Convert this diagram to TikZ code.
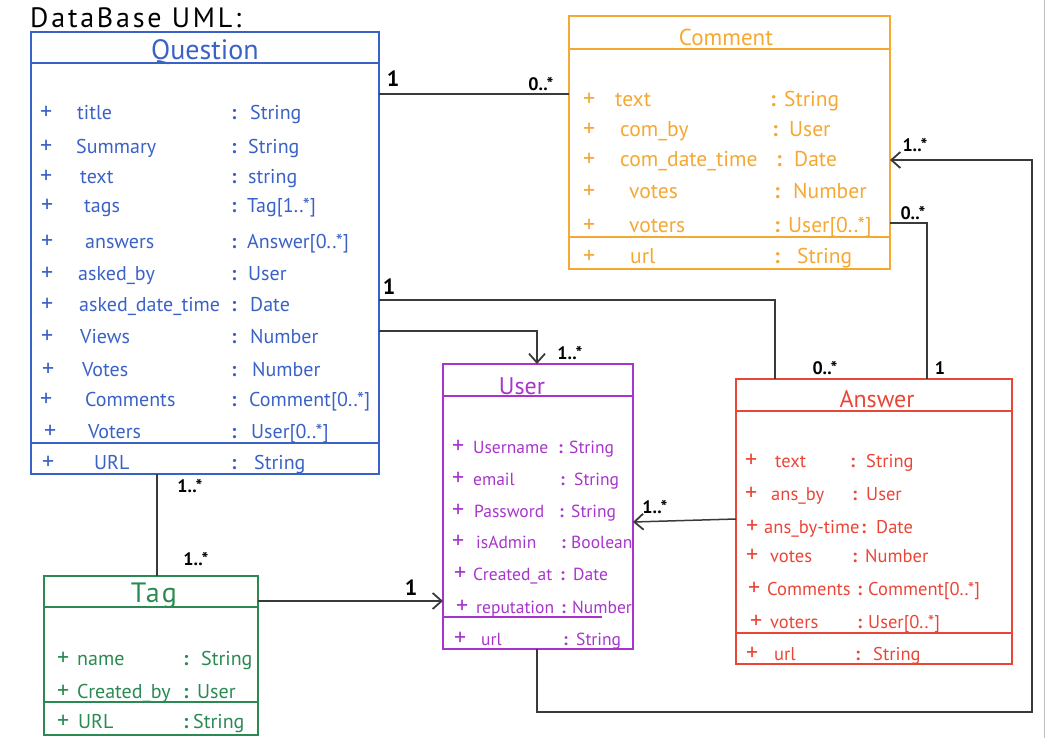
\documentclass[tikz,border=0pt]{standalone}
\usepackage{fontspec}
\setmainfont{PT Sans}
\usetikzlibrary{arrows.meta}
\definecolor{qblue}{HTML}{3A62C6}
\definecolor{corange}{HTML}{F5A832}
\definecolor{upurple}{HTML}{A834CC}
\definecolor{ared}{HTML}{EA4638}
\definecolor{tgreen}{HTML}{2A8A52}
\definecolor{lnk}{HTML}{3A3A3A}
\newcommand\attrrow[8]{%
  \node[attrtxt, plussign] (#1p) at (#2,#6) {+};
  \node[attrtxt] (#1n) at (#3,#6) {#7};
  \node[attrtxt] (#1c) at (#4,#6) {\textbf{:}};
  \node[attrtxt] (#1t) at (#5,#6) {#8};
}
\begin{document}
\begin{tikzpicture}[x=1pt,y=-1pt,
  classbox/.style={draw, line width=1.4pt, inner sep=0pt, outer sep=0pt, anchor=north west},
  sep/.style={line width=1.4pt},
  attrtxt/.style={anchor=base west, inner sep=0pt, font=\fontsize{20}{23}\selectfont},
  plussign/.style={font=\fontsize{24}{26}\selectfont},
  ttl/.style={anchor=base, inner sep=0pt},
  conn/.style={draw=lnk, line width=1.5pt},
  arr/.style={conn, -{Straight Barb[length=9pt,width=16pt,line width=1.8pt]}},
  mult/.style={inner sep=0pt, font=\fontsize{18}{20}\selectfont\bfseries, text=black},
  one/.style={inner sep=0pt, font=\fontsize{22}{24}\selectfont\bfseries, text=black}]
\useasboundingbox (0,0) rectangle (1046,738);
\draw[black!25, line width=0.8pt] (1044,0) -- (1044,738);

\node[anchor=base west, inner sep=0pt, font=\fontsize{28}{32}\selectfont\addfontfeature{LetterSpace=10}] (title) at (30,28) {DataBase UML:};

% ---------------- Question
\begin{scope}[color=qblue]
\node[classbox, minimum width=348pt, minimum height=442pt] (q) at (31,32) {};
\draw[sep] (q.west |- 0,63) -- (q.east |- 0,63);
\draw[sep] (q.west |- 0,443) -- (q.east |- 0,443);
\node[ttl, font=\fontsize{28}{32}\selectfont] (qtitle) at (205,60) {Question};
\attrrow{q1}{40}{77}{231}{250}{120}{title}{String}
\attrrow{q2}{40}{76}{231}{248}{154}{Summary}{String}
\attrrow{q3}{40}{80}{231}{248}{183}{text}{string}
\attrrow{q4}{41}{84}{231}{247}{212}{tags}{Tag[1..*]}
\attrrow{q5}{41}{85}{231}{247}{248}{answers}{Answer[0..*]}
\attrrow{q6}{41}{78}{231}{248}{280}{asked\_by}{User}
\attrrow{q7}{41}{79}{231}{250}{311}{asked\_date\_time}{Date}
\attrrow{q8}{41}{80}{231}{250}{343}{Views}{Number}
\attrrow{q9}{42}{82}{231}{252}{376}{Votes}{Number}
\attrrow{q10}{40}{85}{231}{249}{406}{Comments}{Comment[0..*]}
\attrrow{q11}{44}{88}{231}{251}{438}{Voters}{User[0..*]}
\attrrow{q12}{42}{94}{231}{254}{469}{URL}{String}
\end{scope}

% ---------------- Comment
\begin{scope}[color=corange, attrtxt/.append style={font=\fontsize{21.5}{24}\selectfont}]
\node[classbox, minimum width=321pt, minimum height=253pt] (c) at (569,16) {};
\draw[sep] (c.west |- 0,49) -- (c.east |- 0,49);
\draw[sep] (c.west |- 0,237) -- (c.east |- 0,237);
\node[ttl, font=\fontsize{23}{26}\selectfont] (ctitle) at (726,46) {Comment};
\attrrow{c1}{583}{615}{770}{784}{107}{text}{String}
\attrrow{c2}{583}{620}{772}{789}{137}{com\_by}{User}
\attrrow{c3}{583}{620}{776}{794}{167}{com\_date\_time}{Date}
\attrrow{c4}{583}{629}{774}{793}{198}{votes}{Number}
\attrrow{c5}{583}{629}{774}{788}{232}{voters}{User[0..*]}
\attrrow{c6}{583}{630}{774}{797}{263}{url}{String}
\end{scope}

% ---------------- User
\begin{scope}[color=upurple, attrtxt/.append style={font=\fontsize{17.5}{21}\selectfont}]
\node[classbox, minimum width=190pt, minimum height=285pt] (u) at (443,364) {};
\draw[sep] (u.west |- 0,396) -- (u.east |- 0,396);
\draw[sep] (u.west |- 0,617) -- (602,617);
\node[ttl, font=\fontsize{24}{28}\selectfont] (utitle) at (522,394) {User};
\attrrow{u1}{452}{473}{558}{569}{453}{Username}{String}
\attrrow{u2}{452}{473}{560}{574}{485}{email}{String}
\attrrow{u3}{452}{474}{559}{571}{517}{Password}{String}
\attrrow{u4}{452}{476}{561}{571}{548}{isAdmin}{Boolean}
\attrrow{u5}{454}{473}{560}{573}{580}{Created\_at}{Date}
\attrrow{u6}{456}{476}{561}{572}{613}{reputation}{Number}
\attrrow{u7}{454}{481}{563}{576}{645}{url}{String}
\end{scope}

% ---------------- Answer
\begin{scope}[color=ared, attrtxt/.append style={font=\fontsize{18.5}{22}\selectfont}]
\node[classbox, minimum width=276pt, minimum height=285pt] (a) at (736,379) {};
\draw[sep] (a.west |- 0,411) -- (a.east |- 0,411);
\draw[sep] (a.west |- 0,633) -- (a.east |- 0,633);
\node[ttl, font=\fontsize{24}{28}\selectfont] (atitle) at (877,407) {Answer};
\attrrow{a1}{745}{775}{850}{866}{467}{text}{String}
\attrrow{a2}{745}{771}{852}{866}{500}{ans\_by}{User}
\attrrow{a3}{746}{764}{861}{876}{533}{ans\_by-time}{Date}
\attrrow{a4}{746}{770}{852}{865}{562}{votes}{Number}
\attrrow{a5}{748}{767}{857}{868}{595}{Comments}{Comment[0..*]}
\attrrow{a6}{750}{770}{857}{868}{628}{voters}{User[0..*]}
\attrrow{a7}{746}{774}{855}{873}{660}{url}{String}
\end{scope}

% ---------------- Tag
\begin{scope}[color=tgreen]
\node[classbox, minimum width=214pt, minimum height=159pt] (t) at (44,576) {};
\draw[sep] (t.west |- 0,607) -- (t.east |- 0,607);
\draw[sep] (t.west |- 0,702) -- (t.east |- 0,702);
\node[ttl, font=\fontsize{28}{32}\selectfont\addfontfeature{LetterSpace=8}] (ttitle) at (154,602) {Tag};
\attrrow{t1}{57}{77}{183}{201}{665}{name}{String}
\attrrow{t2}{57}{77}{183}{197}{698}{Created\_by}{User}
\attrrow{t3}{57}{78}{183}{193}{728}{URL}{String}
\end{scope}

% ---------------- connectors
\coordinate (b1) at (537,712);
\coordinate (b2) at (1032,712);
\coordinate (b3) at (1032,160);

\draw[conn] (q.east |- 0,94) -- (c.west |- 0,94);
\draw[conn] (q.east |- 0,300) -| (775,0 |- a.north);
\draw[arr] (q.east |- 0,331) -| (537,0 |- u.north);
\draw[conn] (157,0 |- q.south) -- (157,0 |- t.north);
\draw[arr] (t.east |- 0,601) -- (u.west |- 0,601);
\draw[arr] (a.west |- 0,519) -- (u.east |- 0,522);
\draw[conn] (c.east |- 0,223) -| (927,0 |- a.north);
\draw[arr] (537,0 |- u.south) -- (b1) -- (b2) -- (b3) -- (c.east |- b3);

% ---------------- multiplicities
\node[one] (m1) at (393,79) {1};
\node[mult] (m2) at (541,84) {0..*};
\node[one] (m3) at (389,287) {1};
\node[mult] (m4) at (825,368) {0..*};
\node[mult] (m5) at (570,353) {1..*};
\node[mult] (m6) at (190,486) {1..*};
\node[mult] (m7) at (196,559) {1..*};
\node[one] (m8) at (411,588) {1};
\node[mult] (m9) at (655,507) {1..*};
\node[mult] (m10) at (913,213) {0..*};
\node[mult] (m11) at (940,368) {1};
\node[mult] (m12) at (915,145) {1..*};
\end{tikzpicture}
\end{document}
